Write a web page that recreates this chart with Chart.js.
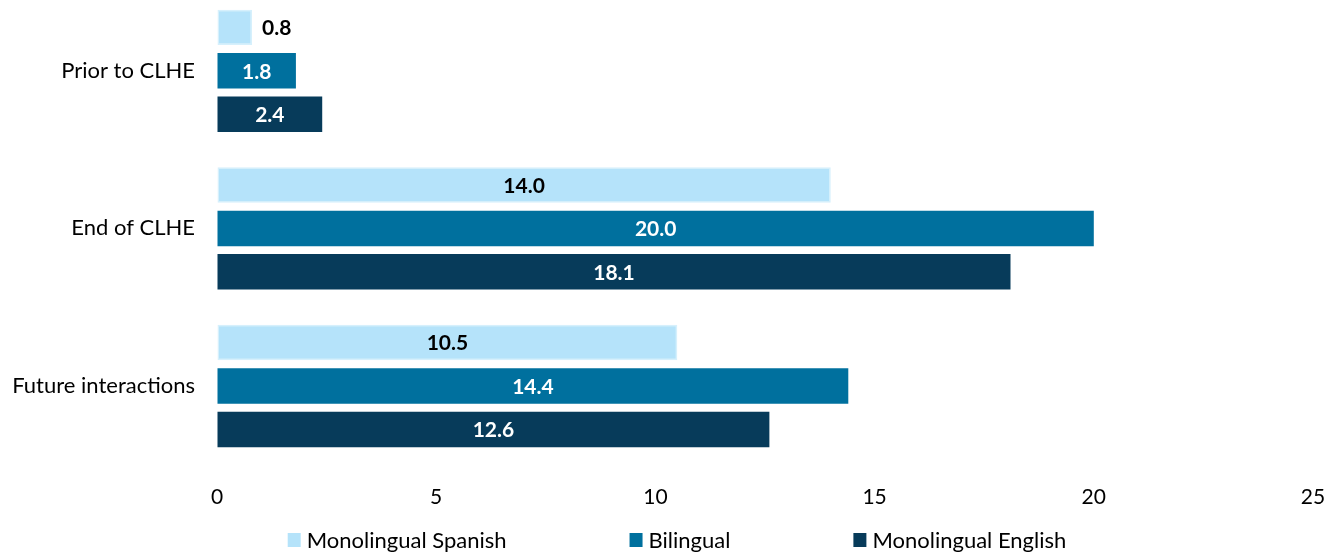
<!DOCTYPE html>
<html>
<head>
<meta charset="utf-8">
<script src="https://cdn.jsdelivr.net/npm/chart.js@4/dist/chart.umd.min.js"></script>
<style>
  html, body { margin: 0; padding: 0; background: #fff; overflow: hidden; }
  /* the plot in the reference starts a little above the page top, so the canvas is shifted up */
  #wrap { width: 1338px; height: 562px; margin-top: -8px; }
</style>
</head>
<body>
<div id="wrap"><canvas id="chart"></canvas></div>
<script>
// data
var categories = ['Prior to CLHE', 'End of CLHE', 'Future interactions'];
var spanish = [0.8, 14.0, 10.5];
var bilingual = [1.8, 20.0, 14.4];
var english = [2.4, 18.1, 12.6];
var xTicks = [0, 5, 10, 15, 20, 25];

var FONT = 'Lato, "Open Sans", sans-serif';

// draws the numbers inside the bars (or just past the end when the bar is too short)
var barLabels = {
    id: 'barLabels',
    afterDatasetsDraw: function(chart) {
        var ctx = chart.ctx;
        ctx.save();
        ctx.font = 'bold 21px ' + FONT;
        ctx.textBaseline = 'middle';
        chart.data.datasets.forEach(function(ds, i) {
            var meta = chart.getDatasetMeta(i);
            meta.data.forEach(function(bar, j) {
                var txt = ds.data[j].toFixed(1);
                var w = ctx.measureText(txt).width;
                var len = bar.x - bar.base;
                if (len < w + 16) {
                    ctx.fillStyle = '#000';
                    ctx.textAlign = 'left';
                    ctx.fillText(txt, bar.x + 10, bar.y + 1);
                } else {
                    ctx.fillStyle = ds.labelColor;
                    ctx.textAlign = 'center';
                    ctx.fillText(txt, (bar.x + bar.base) / 2, bar.y + 1);
                }
            });
        });
        ctx.restore();
    }
};

// legend drawn by hand so the gaps between items can be wide without a tall legend box
var wideLegend = {
    id: 'wideLegend',
    afterDraw: function(chart) {
        var ctx = chart.ctx;
        var gap = 123, boxW = 13, boxH = 14, textGap = 6;
        ctx.save();
        ctx.font = '22px ' + FONT;
        ctx.textBaseline = 'middle';
        var items = chart.data.datasets.map(function(ds) {
            return { text: ds.label, color: ds.backgroundColor, w: boxW + textGap + ctx.measureText(ds.label).width };
        });
        var total = items.reduce(function(s, it) { return s + it.w; }, 0) + gap * (items.length - 1);
        var x = (chart.width - total) / 2 + 8;
        var y = chart.height - 14;
        items.forEach(function(it) {
            ctx.fillStyle = it.color;
            ctx.fillRect(x, y - boxH / 2, boxW, boxH);
            ctx.fillStyle = '#000';
            ctx.textAlign = 'left';
            ctx.fillText(it.text, x + boxW + textGap, y + 1);
            x += it.w + gap;
        });
        ctx.restore();
    }
};

var hiddenGrid = { display: true, drawOnChartArea: false, color: 'rgba(0,0,0,0)' };

var ctx = document.getElementById('chart').getContext('2d');
var chart = new Chart(ctx, {
    type: 'bar',
    data: {
        labels: categories,
        datasets: [{
                label: 'Monolingual Spanish',
                backgroundColor: '#B5E3FA',
                borderColor: '#D6F0FC',
                borderWidth: 1.5,
                borderSkipped: false,
                labelColor: '#000',
                data: spanish
            },
            {
                label: 'Bilingual',
                backgroundColor: '#00709E',
                borderColor: '#00709E',
                borderWidth: 0,
                labelColor: '#fff',
                data: bilingual
            },
            {
                label: 'Monolingual English',
                backgroundColor: '#073B5A',
                borderColor: '#073B5A',
                borderWidth: 0,
                labelColor: '#fff',
                data: english
            }
        ]
    },
    options: {
        indexAxis: 'y',
        responsive: true,
        maintainAspectRatio: false,
        animation: false,
        categoryPercentage: 0.827,
        barPercentage: 0.816,
        layout: { autoPadding: false, padding: { top: 0, right: 25, left: 0, bottom: 44 } },
        scales: {
            x: {
                min: 0,
                max: 25,
                afterBuildTicks: function(axis) {
                    axis.ticks = xTicks.map(function(v) { return { value: v }; });
                },
                grid: Object.assign({ tickLength: 20 }, hiddenGrid),
                border: { display: false },
                ticks: {
                    padding: 0,
                    maxRotation: 0,
                    color: '#000',
                    font: { family: FONT, size: 21 }
                }
            },
            y: {
                afterFit: function(axis) {
                    axis.width = 217;
                    axis.paddingTop = 0;
                    axis.paddingBottom = 0;
                },
                grid: Object.assign({ tickLength: 22 }, hiddenGrid),
                border: { display: false },
                ticks: {
                    padding: 0,
                    color: '#000',
                    font: { family: FONT, size: 22 }
                }
            }
        },
        plugins: {
            tooltip: { enabled: false },
            legend: { display: false }
        }
    },
    plugins: [barLabels, wideLegend]
});
</script>
</body>
</html>
